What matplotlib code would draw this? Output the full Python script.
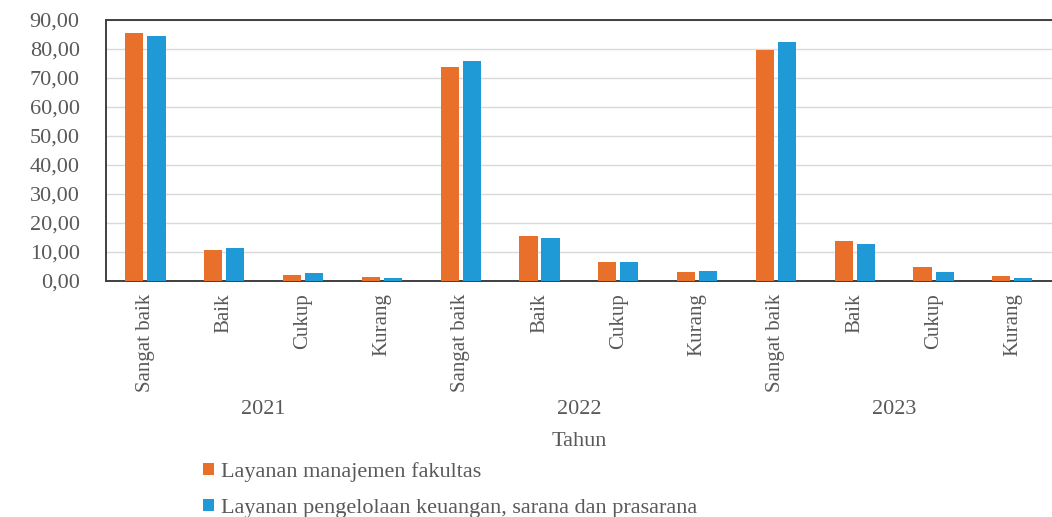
import matplotlib
matplotlib.use('Agg')

import matplotlib.pyplot as plt
import matplotlib.transforms as mtransforms
import numpy as np

years = ['2021', '2022', '2023']
kategori = ['Sangat baik', 'Baik', 'Cukup', 'Kurang']
manajemen = [85.4, 10.7, 2.1, 1.5,
             73.9, 15.6, 6.4, 3.2,
             79.7, 13.8, 4.7, 1.8]
keuangan = [84.6, 11.3, 2.9, 1.1,
            75.9, 14.9, 6.4, 3.6,
            82.3, 12.9, 3.2, 1.1]
labels = kategori * len(years)
seri = ['Layanan manajemen fakultas',
        'Layanan pengelolaan keuangan, sarana dan prasarana']

orange = '#E8702A'
blue = '#1F9AD6'
txt = '#595959'
plt.rcParams['font.family'] = ['Liberation Serif', 'DejaVu Serif']

fig = plt.figure(figsize=(10.52, 5.17), dpi=100)
ax = fig.add_axes([0.1008, 0.4565, 0.899, 0.5048])

x = np.arange(len(labels))
w = 0.23
b1 = ax.bar(x - 0.14, manajemen, w, color=orange, zorder=3, label=seri[0])
b2 = ax.bar(x + 0.14, keuangan, w, color=blue, zorder=3, label=seri[1])

ax.set_xlim(-0.5, len(labels) - 0.5)
ax.set_ylim(0, 90)
ax.set_yticks(np.arange(0, 91, 10))
ax.yaxis.set_major_formatter(matplotlib.ticker.FuncFormatter(lambda v, p: ('%.2f' % v).replace('.', ',')))
ax.set_xticks(x)
ax.set_xticklabels(labels, rotation=90, fontsize=15, color=txt)
ax.tick_params(axis='y', labelsize=16, labelcolor=txt, length=0, pad=19)
ax.tick_params(axis='x', length=0, pad=9)
ax.grid(axis='y', color='#D9D9D9', linewidth=1, zorder=0)

for s in ['left', 'top', 'bottom']:
    ax.spines[s].set_color('#404040')
    ax.spines[s].set_linewidth(1.4)
ax.spines['right'].set_visible(False)

trans = mtransforms.blended_transform_factory(ax.transData, fig.transFigure)
for i, yr in enumerate(years):
    ax.text(i * 4 + 1.5, 1 - 409 / 517, yr, transform=trans, ha='center', va='center',
            fontsize=16, color=txt)
fig.text(0.1008 + 0.899 / 2, 1 - 441 / 517, 'Tahun', ha='center', va='center',
         fontsize=16, color=txt)

fig.legend(handles=[b1, b2], labels=seri, loc='upper left',
           bbox_to_anchor=(0.193, 1 - 462 / 517), frameon=False, fontsize=16,
           labelcolor=txt, handlelength=0.5, handleheight=0.5, handletextpad=0.3,
           labelspacing=0.75, borderaxespad=0, borderpad=0)

plt.savefig('out.png', dpi=100)
